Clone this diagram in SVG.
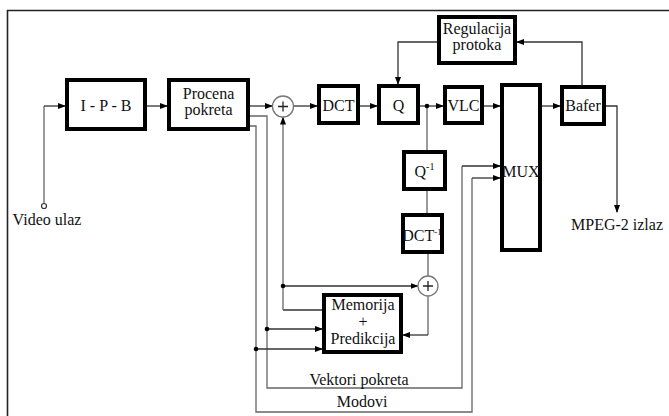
<svg xmlns="http://www.w3.org/2000/svg" width="669" height="416" viewBox="0 0 669 416">
<style>
.box{fill:#fff;stroke:#000;stroke-width:4}
.t{font-family:"Liberation Serif","Times New Roman",serif;font-size:16px;fill:#111;text-anchor:middle}
.c{fill:none;stroke:#333;stroke-width:1.3}
.g{fill:none;stroke:#666;stroke-width:1.3}
.sum{fill:#fff;stroke:#777;stroke-width:1.3}
.dot{fill:#000}
</style>
<defs>
<marker id="ar" markerWidth="8" markerHeight="6" refX="7" refY="3" orient="auto" markerUnits="userSpaceOnUse">
<path d="M0,0 L8,3 L0,6 Z" fill="#000"/>
</marker>
</defs>
<rect width="669" height="416" fill="#fff"/>
<path d="M7.5,416 V10.5 H669" fill="none" stroke="#222" stroke-width="1.6"/>

<g id="connectors">
<circle cx="44" cy="206" r="2.5" fill="#fff" stroke="#333" stroke-width="1.2"/>
<path class="g" d="M44,203.5 V106"/><path class="c" d="M44,106 H65" marker-end="url(#ar)"/>
<path class="c" d="M147,106 H167" marker-end="url(#ar)"/>
<path class="c" d="M250,106 H272" marker-end="url(#ar)"/>
<path class="c" d="M294,106 H317" marker-end="url(#ar)"/>
<path class="c" d="M360,106 H377" marker-end="url(#ar)"/>
<path class="c" d="M420,106 H443" marker-end="url(#ar)"/>
<path class="c" d="M484,106 H500" marker-end="url(#ar)"/>
<path class="c" d="M542,106 H560" marker-end="url(#ar)"/>
<path class="c" d="M582,85 V42 H517" marker-end="url(#ar)"/>
<path class="c" d="M437,42 H398 V84" marker-end="url(#ar)"/>
<path class="c" d="M606,106 H617 V212" marker-end="url(#ar)"/>
<path class="g" d="M427,106 V150 M427,191 V213 M428,254 V276"/>
<path class="g" d="M428,296.5 V335"/><path class="c" d="M428,335 H403" marker-end="url(#ar)"/>
<path class="c" d="M322,310 H283"/><path class="g" d="M283,310 V117.5" marker-end="url(#ar)"/>
<path class="c" d="M283,286 H417.5" marker-end="url(#ar)"/>
<path class="g" d="M250,116 H267 V388 H462 V166"/><path class="c" d="M462,166 H500" marker-end="url(#ar)"/>
<path class="c" d="M267,329 H322" marker-end="url(#ar)"/>
<path class="g" d="M250,126 H256 V412 H472 V178"/><path class="c" d="M472,178 H500" marker-end="url(#ar)"/>
<path class="c" d="M256,349 H322" marker-end="url(#ar)"/>
<circle class="dot" cx="427" cy="106" r="2.3"/>
<circle class="dot" cx="283" cy="286" r="2.3"/>
<circle class="dot" cx="267" cy="329" r="2.3"/>
<circle class="dot" cx="256" cy="349" r="2.3"/>
</g>

<g id="sum1"><circle class="sum" cx="283" cy="106.5" r="10.5"/><path d="M278,106.5 H288 M283,101.5 V111.5" stroke="#222" stroke-width="1.3"/></g>
<g id="sum2"><circle class="sum" cx="428" cy="286" r="10"/><path d="M423,286 H433 M428,281 V291" stroke="#222" stroke-width="1.3"/></g>

<g id="ipb"><rect class="box" x="67" y="80" width="78" height="49"/><text class="t" x="106" y="111">I - P - B</text></g>
<g id="procena"><rect class="box" x="169" y="80" width="79" height="49"/><text class="t" x="208.5" y="99">Procena</text><text class="t" x="208.5" y="115">pokreta</text></g>
<g id="dct"><rect class="box" x="319" y="86" width="39" height="37"/><text class="t" x="338.5" y="111">DCT</text></g>
<g id="q"><rect class="box" x="379" y="86" width="39" height="37"/><text class="t" x="398.5" y="111">Q</text></g>
<g id="vlc"><rect class="box" x="445" y="87" width="37" height="36"/><text class="t" x="463.5" y="111">VLC</text></g>
<g id="mux"><rect class="box" x="502" y="85" width="38" height="165"/><text class="t" x="521" y="177">MUX</text></g>
<g id="bafer"><rect class="box" x="562" y="87" width="42" height="37"/><text class="t" x="583" y="111">Bafer</text></g>
<g id="regulacija"><rect class="box" x="439" y="17" width="76" height="46"/><text class="t" x="477" y="34">Regulacija</text><text class="t" x="477" y="50">protoka</text></g>
<g id="qinv"><rect class="box" x="404" y="152" width="41" height="37"/><text class="t" x="424.5" y="177">Q<tspan font-size="10" dy="-7">-1</tspan></text></g>
<g id="dctinv"><rect class="box" x="403" y="215" width="39" height="37"/><text class="t" x="422" y="241" font-size="13">DCT<tspan font-size="9" dy="-6">-1</tspan></text></g>
<g id="memorija"><rect class="box" x="324" y="295" width="77" height="57"/><text class="t" x="363" y="310">Memorija</text><text class="t" x="363" y="327" font-size="8">+</text><text class="t" x="363" y="344">Predikcija</text></g>

<text class="t" x="47" y="225">Video ulaz</text>
<text class="t" x="617" y="230">MPEG-2 izlaz</text>
<text class="t" x="359" y="385">Vektori pokreta</text>
<text class="t" x="362" y="407">Modovi</text>
</svg>
